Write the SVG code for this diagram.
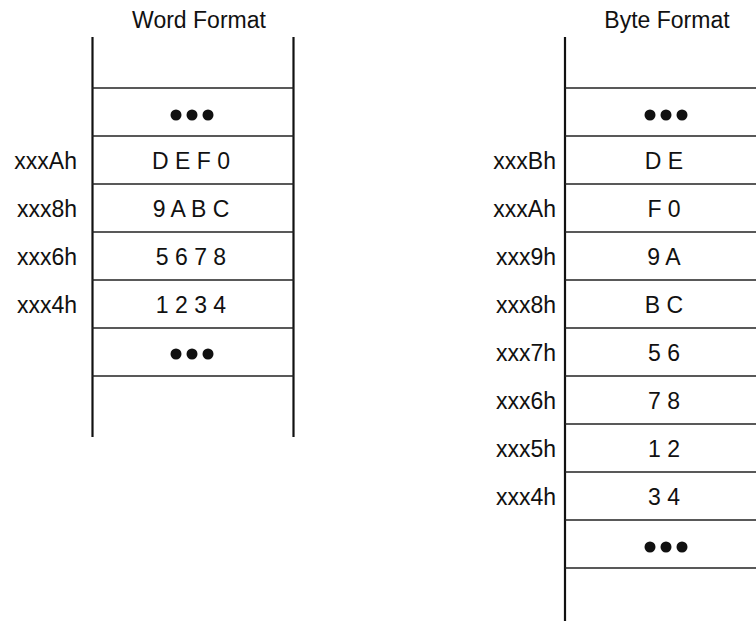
<svg xmlns="http://www.w3.org/2000/svg" width="756" height="621" viewBox="0 0 756 621">
<style>
text{font-family:"Liberation Sans",Arial,sans-serif;font-size:23px;fill:#111}
.t{text-anchor:middle}
.l{text-anchor:end}
.v{stroke:#111;stroke-width:2.2;fill:none}
.h{stroke:#222;stroke-width:1.4;fill:none}
.d{fill:#111}
</style>
<rect width="756" height="621" fill="#fff"/>
<g id="word-format">
<text class="t" x="199" y="28">Word Format</text>
<g id="connectors-word">
<line class="v" x1="92.5" y1="37" x2="92.5" y2="437"/>
<line class="v" x1="293.5" y1="37" x2="293.5" y2="437"/>
<line class="h" x1="92" y1="88" x2="294" y2="88"/>
<line class="h" x1="92" y1="136" x2="294" y2="136"/>
<line class="h" x1="92" y1="184" x2="294" y2="184"/>
<line class="h" x1="92" y1="232" x2="294" y2="232"/>
<line class="h" x1="92" y1="280" x2="294" y2="280"/>
<line class="h" x1="92" y1="328" x2="294" y2="328"/>
<line class="h" x1="92" y1="376" x2="294" y2="376"/>
</g>
<g id="w-dots-top"><circle class="d" cx="176" cy="115" r="5.5"/><circle class="d" cx="192" cy="115" r="5.5"/><circle class="d" cx="208" cy="115" r="5.5"/></g>
<g id="w-xxxA"><text class="l" x="77" y="169">xxxAh</text><text class="t" x="191" y="169">D E F 0</text></g>
<g id="w-xxx8"><text class="l" x="77" y="217">xxx8h</text><text class="t" x="191" y="217">9 A B C</text></g>
<g id="w-xxx6"><text class="l" x="77" y="265">xxx6h</text><text class="t" x="191" y="265">5 6 7 8</text></g>
<g id="w-xxx4"><text class="l" x="77" y="313">xxx4h</text><text class="t" x="191" y="313">1 2 3 4</text></g>
<g id="w-dots-bottom"><circle class="d" cx="176" cy="354" r="5.5"/><circle class="d" cx="192" cy="354" r="5.5"/><circle class="d" cx="208" cy="354" r="5.5"/></g>
</g>
<g id="byte-format">
<text class="t" x="667" y="28">Byte Format</text>
<g id="connectors-byte">
<line class="v" x1="565" y1="37" x2="565" y2="621"/>
<line class="h" x1="565" y1="88" x2="756" y2="88"/>
<line class="h" x1="565" y1="136" x2="756" y2="136"/>
<line class="h" x1="565" y1="184" x2="756" y2="184"/>
<line class="h" x1="565" y1="232" x2="756" y2="232"/>
<line class="h" x1="565" y1="280" x2="756" y2="280"/>
<line class="h" x1="565" y1="328" x2="756" y2="328"/>
<line class="h" x1="565" y1="376" x2="756" y2="376"/>
<line class="h" x1="565" y1="424" x2="756" y2="424"/>
<line class="h" x1="565" y1="472" x2="756" y2="472"/>
<line class="h" x1="565" y1="520" x2="756" y2="520"/>
<line class="h" x1="565" y1="568" x2="756" y2="568"/>
</g>
<g id="b-dots-top"><circle class="d" cx="650" cy="115" r="5.5"/><circle class="d" cx="666" cy="115" r="5.5"/><circle class="d" cx="682" cy="115" r="5.5"/></g>
<g id="b-xxxB"><text class="l" x="556" y="169">xxxBh</text><text class="t" x="664" y="169">D E</text></g>
<g id="b-xxxA"><text class="l" x="556" y="217">xxxAh</text><text class="t" x="664" y="217">F 0</text></g>
<g id="b-xxx9"><text class="l" x="556" y="265">xxx9h</text><text class="t" x="664" y="265">9 A</text></g>
<g id="b-xxx8"><text class="l" x="556" y="313">xxx8h</text><text class="t" x="664" y="313">B C</text></g>
<g id="b-xxx7"><text class="l" x="556" y="361">xxx7h</text><text class="t" x="664" y="361">5 6</text></g>
<g id="b-xxx6"><text class="l" x="556" y="409">xxx6h</text><text class="t" x="664" y="409">7 8</text></g>
<g id="b-xxx5"><text class="l" x="556" y="457">xxx5h</text><text class="t" x="664" y="457">1 2</text></g>
<g id="b-xxx4"><text class="l" x="556" y="505">xxx4h</text><text class="t" x="664" y="505">3 4</text></g>
<g id="b-dots-bottom"><circle class="d" cx="650" cy="547" r="5.5"/><circle class="d" cx="666" cy="547" r="5.5"/><circle class="d" cx="682" cy="547" r="5.5"/></g>
</g>
</svg>
